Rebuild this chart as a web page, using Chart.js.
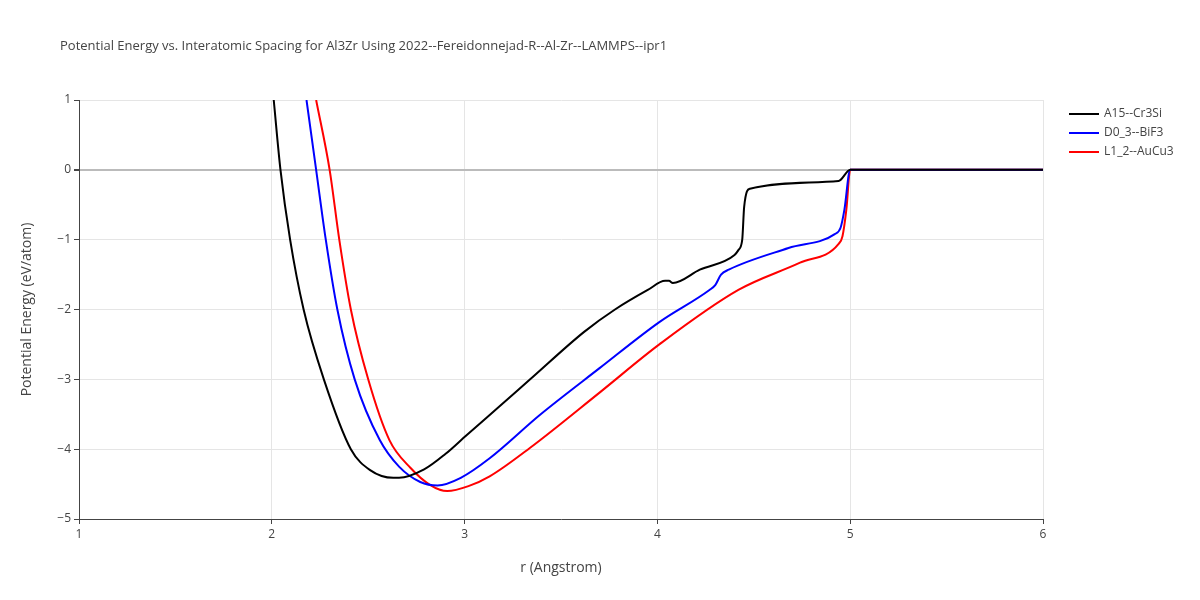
<!DOCTYPE html>
<html><head><meta charset="utf-8">
<script src="https://cdn.jsdelivr.net/npm/chart.js@4"></script>
<style>body{margin:0;background:#fff}#w{width:1200px;height:600px}</style>
</head><body><div id="w"><canvas id="c"></canvas></div>
<script>
const seriesNames = ["A15--Cr3Si","D0_3--BiF3","L1_2--AuCu3"];
const seriesColors = ["#000000","#0000ff","#ff0000"];
const a15R = [2.01,2.045,2.095,2.165,2.27,2.41,2.51,2.63,2.66,2.79,2.90,3.01,3.18,3.34,3.62,3.78,3.95,4.04,4.06,4.08,4.22,4.40,4.42,4.44,4.45,4.48,4.94,5.0,5.5,6.0];
const a15E = [1,0,-1,-2,-3,-4,-4.3,-4.41,-4.41,-4.29,-4.07,-3.8,-3.39,-3.0,-2.32,-2.0,-1.72,-1.59,-1.59,-1.62,-1.43,-1.22,-1.15,-1.0,-0.53,-0.27,-0.16,0,0,0];
const d03R = [2.18,2.23,2.28,2.34,2.43,2.56,2.66,2.77,2.86,2.98,3.13,3.39,3.70,4.01,4.27,4.30,4.33,4.37,4.68,4.92,4.95,4.97,5.0,5.5,6.0];
const d03E = [1,0,-1,-2,-3,-3.87,-4.25,-4.47,-4.52,-4.41,-4.13,-3.51,-2.84,-2.18,-1.72,-1.65,-1.5,-1.43,-1.12,-0.92,-0.83,-0.57,0,0,0];
const l12R = [2.23,2.30,2.35,2.41,2.50,2.61,2.72,2.82,2.91,3.02,3.13,3.34,3.70,4.01,4.42,4.74,4.94,4.96,4.98,5.0,5.5,6.0];
const l12E = [1,0,-1,-2,-3,-3.87,-4.27,-4.51,-4.6,-4.53,-4.39,-3.98,-3.19,-2.5,-1.72,-1.33,-1.06,-0.95,-0.57,0,0,0];
const xTicks = [1,2,3,4,5,6];
const yTicks = [1,0,-1,-2,-3,-4,-5];
const titleText = "Potential Energy vs. Interatomic Spacing for Al3Zr Using 2022--Fereidonnejad-R--Al-Zr--LAMMPS--ipr1";

const mk = (r,e)=>r.map((x,i)=>({x:x,y:e[i]}));
const data = [mk(a15R,a15E),mk(d03R,d03E),mk(l12R,l12E)];
const F = "'Open Sans', sans-serif";
const deco = {id:'deco', afterDraw(ch){
  const c=ch.ctx; c.save();
  c.font="13px "+F; c.fillStyle="#444"; c.textBaseline="middle";
  c.fillText(titleText,60,46);
  seriesNames.forEach((n,i)=>{
    const y=114+i*19;
    c.strokeStyle=seriesColors[i]; c.lineWidth=2;
    c.beginPath(); c.moveTo(1069,y); c.lineTo(1099,y); c.stroke();
    c.fillStyle="#444"; c.font="12px "+F; c.fillText(n,1104,y);
  });
  c.restore();
}};
new Chart(document.getElementById('c'),{
  type:'scatter',
  data:{datasets:data.map((d,i)=>({label:seriesNames[i],data:d,showLine:true,borderColor:seriesColors[i],backgroundColor:seriesColors[i],borderWidth:2,pointRadius:0,cubicInterpolationMode:'monotone'}))},
  options:{responsive:true,maintainAspectRatio:false,animation:false,
    layout:{padding:{left:15,top:100,right:157,bottom:0}},
    plugins:{legend:{display:false},tooltip:{enabled:false}},
    scales:{
      x:{type:'linear',min:1,max:6,
        afterBuildTicks(s){s.ticks=xTicks.map(v=>({value:v}));},
        afterFit(s){s.height=81;},
        grid:{color:'#e5e5e5',drawTicks:true,tickLength:5,tickColor:'#444'},
        border:{color:'#444'},
        ticks:{color:'#444',font:{family:F,size:12}},
        title:{display:true,text:'r (Angstrom)',color:'#444',font:{family:F,size:14},padding:{top:4,bottom:24}}},
      y:{min:-5,max:1,
        afterBuildTicks(s){s.ticks=yTicks.map(v=>({value:v}));},
        afterFit(s){s.width=64;},
        grid:{color:c=>c.tick&&c.tick.value===0?'#bbb':'#e5e5e5',lineWidth:c=>c.tick&&c.tick.value===0?2:1,tickLength:5,tickColor:'#444'},
        border:{color:'#444'},
        ticks:{color:'#444',font:{family:F,size:12},callback:v=>v<0?'\u2212'+Math.abs(v):v},
        title:{display:true,text:'Potential Energy (eV/atom)',color:'#444',font:{family:F,size:14}}}
    }},
  plugins:[deco]
});
</script></body></html>
